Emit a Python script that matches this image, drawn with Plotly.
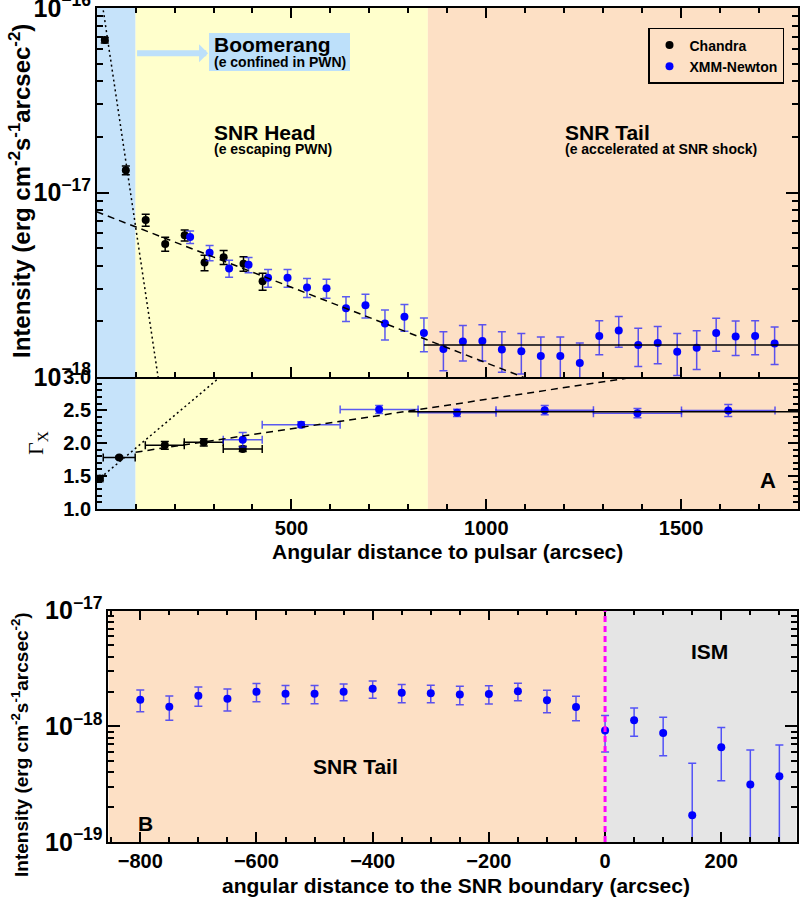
import numpy as np
import plotly.graph_objects as go

SCALE = 1e-18  # intensity unit: erg cm^-2 s^-1 arcsec^-2

# ---------------- Panel A: intensity profile ----------------
ch_x = [21, 75, 126, 176, 226, 277, 326, 377, 426]
ch_I = [67.0, 13.2, 7.1, 5.26, 5.86, 4.17, 4.46, 4.11, 3.30]
ch_Ierr = [2.3, 0.73, 0.53, 0.46, 0.40, 0.40, 0.39, 0.37, 0.35]

xmm_x = [240, 290, 340, 390, 440, 490, 540, 590, 640, 690, 740, 790, 840, 890, 940,
         990, 1040, 1090, 1140, 1190, 1240, 1290, 1340, 1390, 1440, 1490, 1540, 1590,
         1640, 1690, 1740]
xmm_I = [5.74, 4.72, 3.88, 4.06, 3.45, 3.45, 3.06, 3.03, 2.36, 2.45, 1.95, 2.12, 1.73,
         1.42, 1.56, 1.57, 1.41, 1.38, 1.30, 1.30, 1.19, 1.67, 1.79, 1.49, 1.53, 1.37,
         1.44, 1.73, 1.66, 1.67, 1.52]
xmm_Ierr = [0.45, 0.45, 0.41, 0.39, 0.38, 0.38, 0.36, 0.36, 0.36, 0.36, 0.36, 0.35, 0.36,
            0.34, 0.34, 0.35, 0.35, 0.34, 0.35, 0.35, 0.34, 0.35, 0.34, 0.35, 0.35, 0.35,
            0.34, 0.35, 0.35, 0.35, 0.35]

# fits (log10 I = a + b x), drawn from x0 to x1
fit_pwn = (-15.771, -0.01413, 0, 170)      # dotted
fit_head = (-17.104, -8.19e-4, 0, 1800)    # dashed
tail_level = 1.49                           # solid
tail_range = (840, 1800)

# ---------------- Panel A: photon index ----------------
ch_gx = [8, 58, 175, 275, 375]
ch_gxerr = [8, 41, 50, 50, 50]
ch_g = [1.46, 1.78, 1.965, 2.01, 1.91]
ch_gerr = [0.03, 0.02, 0.06, 0.055, 0.04]

xmm_gx = [375, 525, 725, 925, 1150, 1388, 1621]
xmm_gxerr = [50, 100, 100, 100, 125, 113, 120]
xmm_g = [2.05, 2.28, 2.51, 2.46, 2.50, 2.455, 2.495]
xmm_gerr = [0.11, 0.045, 0.06, 0.055, 0.07, 0.07, 0.09]

gfit_pwn = (1.42, 5.0e-3, 0, 330)
gfit_head = (1.771, 8.94e-4, 100, 1800)
gtail_level = 2.475
gtail_range = (800, 1800)

regions_A = [0, 100, 850, 1800]
colors_A = ["#C6E3FA", "#FFFFCC", "#FDE0C5"]

# ---------------- Panel B ----------------
b_x = [-800, -750, -700, -650, -600, -550, -500, -450, -400, -350, -300, -250, -200,
       -150, -100, -50, 0, 50, 100, 150, 200, 250, 300]
b_I = [1.70, 1.48, 1.84, 1.73, 1.99, 1.91, 1.91, 1.99, 2.11, 1.95, 1.93, 1.88, 1.90,
       2.01, 1.68, 1.47, 0.92, 1.13, 0.877, 0.17, 0.659, 0.314, 0.371]
b_err = [0.36, 0.35, 0.35, 0.37, 0.36, 0.34, 0.34, 0.33, 0.36, 0.35, 0.33, 0.34, 0.34,
         0.35, 0.37, 0.35, 0.32, 0.31, 0.32, 0.31, 0.32, 0.31, 0.32]
regions_B = [-855, 0, 330]
colors_B = ["#FDE0C5", "#E5E5E5"]
boundary_x = 0

FONT = "Liberation Sans"
BLUE = "#0000FF"
EBLUE = "rgba(20,20,255,0.7)"
LBLUE = "#BDE0FA"


def scaled(v):
    return np.array(v, dtype=float) * SCALE


def lower(v, e):
    v = np.array(v, float); e = np.array(e, float)
    return np.minimum(e, 0.999 * v) * SCALE


fig = go.Figure()

fig.add_trace(go.Scatter(
    x=ch_x, y=scaled(ch_I), mode="markers", name="<b>Chandra</b>",
    marker=dict(color="black", size=8),
    error_y=dict(type="data", array=scaled(ch_Ierr), arrayminus=lower(ch_I, ch_Ierr),
                 color="black", thickness=1.5, width=4),
    xaxis="x", yaxis="y"))
fig.add_trace(go.Scatter(
    x=xmm_x, y=scaled(xmm_I), mode="markers", name="<b>XMM-Newton</b>",
    marker=dict(color=BLUE, size=8),
    error_y=dict(type="data", array=scaled(xmm_Ierr), arrayminus=lower(xmm_I, xmm_Ierr),
                 color=EBLUE, thickness=1.5, width=4),
    xaxis="x", yaxis="y"))

for (a, b, x0, x1), dash in [(fit_pwn, "2px,3px"), (fit_head, "7px,5px")]:
    xx = np.array([x0, x1], float)
    fig.add_trace(go.Scatter(x=xx, y=10 ** (a + b * xx), mode="lines",
                             line=dict(color="black", width=1.5, dash=dash),
                             showlegend=False, hoverinfo="skip", xaxis="x", yaxis="y"))
fig.add_trace(go.Scatter(x=list(tail_range), y=[tail_level * SCALE] * 2, mode="lines",
                         line=dict(color="black", width=1.5), showlegend=False,
                         xaxis="x", yaxis="y"))

fig.add_trace(go.Scatter(
    x=ch_gx, y=ch_g, mode="markers", showlegend=False,
    marker=dict(color="black", size=8),
    error_y=dict(type="data", array=ch_gerr, color="black", thickness=1.5, width=4),
    error_x=dict(type="data", array=ch_gxerr, color="black", thickness=1.5, width=4),
    xaxis="x2", yaxis="y2"))
fig.add_trace(go.Scatter(
    x=xmm_gx, y=xmm_g, mode="markers", showlegend=False,
    marker=dict(color=BLUE, size=8),
    error_y=dict(type="data", array=xmm_gerr, color=EBLUE, thickness=1.5, width=4),
    error_x=dict(type="data", array=xmm_gxerr, color=EBLUE, thickness=1.5, width=4),
    xaxis="x2", yaxis="y2"))
for (a, b, x0, x1), dash in [(gfit_pwn, "2px,3px"), (gfit_head, "7px,5px")]:
    xx = np.array([x0, x1], float)
    fig.add_trace(go.Scatter(x=xx, y=a + b * xx, mode="lines",
                             line=dict(color="black", width=1.5, dash=dash),
                             showlegend=False, xaxis="x2", yaxis="y2"))
fig.add_trace(go.Scatter(x=list(gtail_range), y=[gtail_level] * 2, mode="lines",
                         line=dict(color="black", width=1.5), showlegend=False,
                         xaxis="x2", yaxis="y2"))

fig.add_trace(go.Scatter(
    x=b_x, y=scaled(b_I), mode="markers", showlegend=False,
    marker=dict(color=BLUE, size=8),
    error_y=dict(type="data", array=scaled(b_err), arrayminus=lower(b_I, b_err),
                 color=EBLUE, thickness=1.5, width=4),
    xaxis="x3", yaxis="y3"))

shapes = []
for xr, yr in [("x", "y domain"), ("x2", "y2 domain")]:
    for i, c in enumerate(colors_A):
        shapes.append(dict(type="rect", xref=xr, yref=yr, x0=regions_A[i], x1=regions_A[i + 1],
                           y0=0, y1=1, fillcolor=c, line=dict(width=0), layer="below"))
for i, c in enumerate(colors_B):
    shapes.append(dict(type="rect", xref="x3", yref="y3 domain", x0=regions_B[i], x1=regions_B[i + 1],
                       y0=0, y1=1, fillcolor=c, line=dict(width=0), layer="below"))
shapes.append(dict(type="line", xref="x3", yref="y3 domain", x0=boundary_x, x1=boundary_x,
                   y0=0, y1=1, line=dict(color="#FF00FF", width=3, dash="6px,4px"), layer="above"))
# background box of the "Boomerang" label
shapes.append(dict(type="rect", xref="paper", yref="paper", x0=209 / 800, x1=350 / 800,
                   y0=1 - 71 / 902, y1=1 - 33 / 902, fillcolor=LBLUE, line=dict(width=0),
                   layer="below"))

tickfont = dict(family=FONT, size=20, color="black", weight="bold")


def common(mirror="allticks"):
    return dict(showline=True, linecolor="black", linewidth=1.5, mirror=mirror,
                ticks="inside", tickcolor="black", tickwidth=1.5, showgrid=False,
                zeroline=False, tickfont=tickfont, automargin=False,
                ticklabeloverflow="allow")


minor_x = dict(ticks="inside", dtick=100, tick0=0, ticklen=5, tickcolor="black", tickwidth=1.5)
minor_log = dict(ticks="inside", dtick="D1", ticklen=6, tickcolor="black", tickwidth=1.5)

XD_A = [0.121, 0.9975]
XD_B = [0.1354, 0.996]

fig.update_layout(
    template="none",
    width=800, height=902, margin=dict(l=0, r=0, t=0, b=0, pad=0, autoexpand=False),
    paper_bgcolor="white", plot_bgcolor="white",
    font=dict(family=FONT, color="black"),
    shapes=shapes,
    showlegend=True,
    legend=dict(x=0.98, y=0.969, xanchor="right", yanchor="top",
                bgcolor="rgba(0,0,0,0)", bordercolor="black", borderwidth=1.5,
                font=dict(family=FONT, size=14, color="black"), itemwidth=30,
                tracegroupgap=0),
    xaxis=dict(domain=XD_A, anchor="y", range=[0.5, 1800], showticklabels=False,
               tickmode="linear", tick0=0, dtick=500, ticklen=10, minor=minor_x, **common()),
    yaxis=dict(domain=[0.582, 0.9911], anchor="x", type="log", range=[-18, -16],
               tickmode="linear", tick0=0, dtick=1, exponentformat="power", ticklen=12,
               minor=minor_log, **common()),
    xaxis2=dict(domain=XD_A, anchor="y2", range=[0.5, 1800],
                tickmode="linear", tick0=0, dtick=500, ticklen=10, minor=minor_x,
                **common(mirror=False)),
    yaxis2=dict(domain=[0.4357, 0.582], anchor="x2", range=[0.995, 3.005],
                tickmode="linear", tick0=1, dtick=0.5, tickformat=".1f", ticklen=10,
                minor=dict(ticks="inside", dtick=0.1, tick0=1, ticklen=5, tickcolor="black",
                           tickwidth=1.5), **common()),
    xaxis3=dict(domain=XD_B, anchor="y3", range=[-855, 330],
                tickmode="linear", tick0=0, dtick=200, ticklen=10,
                minor=dict(ticks="inside", dtick=50, tick0=0, ticklen=5, tickcolor="black",
                           tickwidth=1.5), **common()),
    yaxis3=dict(domain=[0.0665, 0.3230], anchor="x3", type="log", range=[-19, -17],
                tickmode="linear", tick0=0, dtick=1, exponentformat="power", ticklen=12,
                minor=minor_log, **common()),
)

ann = []


def pa(text, x, y, size, xanchor="center", family=FONT, **kw):
    d = dict(text=text, x=x / 800, y=1 - y / 902, xref="paper", yref="paper",
             xanchor=xanchor, yanchor="middle", showarrow=False,
             font=dict(family=family, size=size, color="black"))
    d.update(kw)
    ann.append(d)


ann.append(dict(text="", x=286, y=-16.2455, ax=100, ay=-16.2455, xref="x", yref="y",
                axref="x", ayref="y", showarrow=True, arrowhead=1, arrowsize=0.5,
                arrowwidth=6, arrowcolor=LBLUE))
pa("<b>Boomerang</b>", 212, 44, 21, xanchor="left")
pa("<b>(e confined in PWN)</b>", 212, 62, 14, xanchor="left")
pa("<b>SNR Head</b>", 212, 132, 21, xanchor="left")
pa("<b>(e escaping PWN)</b>", 212, 149, 14, xanchor="left")
pa("<b>SNR Tail</b>", 563, 132, 21, xanchor="left")
pa("<b>(e accelerated at SNR shock)</b>", 563, 149, 14, xanchor="left")
pa("<b>A</b>", 768, 481, 22)
pa("<b>B</b>", 145, 823, 21)
pa("<b>SNR Tail</b>", 355, 766, 21)
pa("<b>ISM</b>", 709, 651, 21)
pa("<b>Angular distance to pulsar (arcsec)</b>", 447, 551, 21)
pa("<b>angular distance to the SNR boundary (arcsec)</b>", 456, 885, 21)
pa("<b>Intensity (erg cm<sup>-2</sup>s<sup>-1</sup>arcsec<sup>-2</sup>)</b>", 20, 191, 24,
   textangle=-90)
pa("<b>Intensity (erg cm<sup>-2</sup>s<sup>-1</sup>arcsec<sup>-2</sup>)</b>", 20, 745, 19,
   textangle=-90)
pa("Γ<sub>X</sub>", 37, 443, 22, family="Liberation Serif", textangle=-90)
fig.update_layout(annotations=ann)

fig.write_html("out.html")
